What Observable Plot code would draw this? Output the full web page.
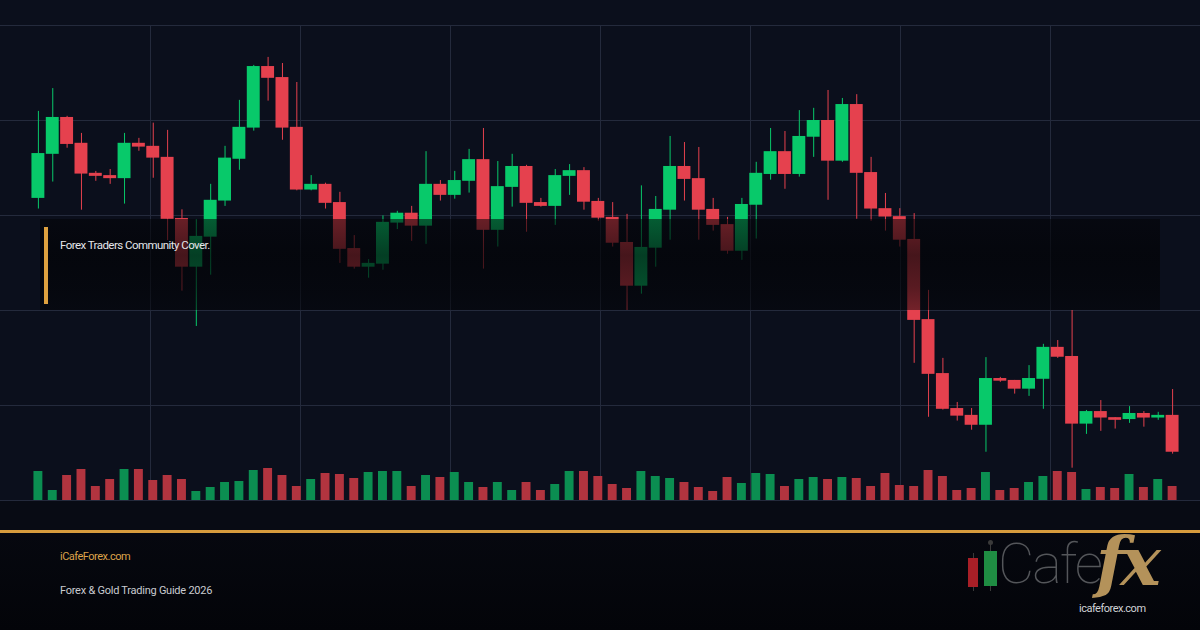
<!DOCTYPE html>
<html><head><meta charset="utf-8">
<script src="https://cdn.jsdelivr.net/npm/d3@7"></script>
<script src="https://cdn.jsdelivr.net/npm/@observablehq/plot@0.6"></script>
<style>
html,body{margin:0;padding:0;background:#04060a;}
#wrap{position:relative;width:1200px;height:630px;overflow:hidden;font-family:Roboto,"Noto Sans",sans-serif;
 background:linear-gradient(to bottom,#0b0f1c 0px,#0b0f1c 500px,#080b14 501px,#080b14 530px,#06080f 533px,#030409 630px);}
.layer{position:absolute;left:0;top:0;}
.layer svg{display:block;background:transparent;}
#band{position:absolute;left:40px;top:219px;width:1120px;height:91px;
 background:linear-gradient(to bottom,rgba(2,3,6,0.55) 0%,rgba(2,3,6,0.7) 40%,rgba(2,3,6,0.62) 75%,rgba(2,3,6,0.5) 100%);}
#bar{position:absolute;left:4px;top:8px;width:4px;height:77px;background:#dea13f;}
#bandtext{position:absolute;left:20px;top:21px;font-size:11.5px;line-height:11.5px;letter-spacing:-0.55px;color:#e4e6ea;white-space:nowrap;}
#goldline{position:absolute;left:0;top:530px;width:1200px;height:3px;background:#d79c3d;}
.ft{position:absolute;left:60px;font-size:11px;line-height:11px;white-space:nowrap;}
#site{top:551px;color:#dca24a;letter-spacing:-0.5px;}
#guide{top:585px;color:#c9cbd0;letter-spacing:-0.25px;}
.ic{position:absolute;}
#cafe{position:absolute;left:998px;top:536px;font-size:56px;line-height:56px;font-weight:100;color:#54565a;letter-spacing:-2px;font-family:Roboto,Lato,sans-serif;}
#fx{position:absolute;left:1096px;top:527px;font-size:68px;line-height:68px;font-weight:bold;font-style:italic;font-family:"DejaVu Serif","Liberation Serif",serif;color:#b4925a;letter-spacing:-5px;}
#logourl{position:absolute;left:1079px;top:603px;font-size:11px;line-height:11px;color:#d0d2d6;letter-spacing:-0.5px;white-space:nowrap;}
</style></head>
<body>
<div id="wrap">
  <div class="layer" id="gridLayer"></div>
  <div class="layer" id="candleLayer"></div>
  <div class="layer" id="volLayer"></div>
  <div id="band"><div id="bar"></div><div id="bandtext">Forex Traders Community Cover.</div></div>
  <div id="goldline"></div>
  <div class="ft" id="site">iCafeForex.com</div>
  <div class="ft" id="guide">Forex &amp; Gold Trading Guide 2026</div>
  <div class="ic" style="left:973px;top:553px;width:1px;height:38px;background:#3a3a3a"></div>
  <div class="ic" style="left:968px;top:558px;width:10px;height:29px;background:#a81f27"></div>
  <div class="ic" style="left:990px;top:542px;width:1px;height:49px;background:#3a3a3a"></div>
  <div class="ic" style="left:988px;top:540px;width:5px;height:5px;border-radius:3px;background:#3a3a3a"></div>
  <div class="ic" style="left:984px;top:551px;width:13px;height:35px;background:#1f8d43"></div>
  <div id="cafe">Cafe</div>
  <div id="fx">fx</div>
  <div id="logourl">icafeforex.com</div>
</div>
<script>
// ---- data ----
const open = [2404.5, 2416.1, 2425.8, 2419.0, 2411.1, 2410.5, 2409.7, 2419.0, 2418.2, 2415.3,
 2399.2, 2386.4, 2394.3, 2403.8, 2414.8, 2423.0, 2439.2, 2436.3, 2423.2, 2406.7,
 2408.2, 2403.4, 2391.3, 2386.4, 2387.2, 2398.0, 2400.6, 2397.2, 2408.2, 2405.3,
 2409.0, 2414.7, 2396.1, 2407.4, 2412.9, 2403.4, 2402.4, 2410.3, 2411.8, 2403.7,
 2399.5, 2392.9, 2381.4, 2391.4, 2401.4, 2412.9, 2409.7, 2401.6, 2397.6, 2390.6,
 2402.7, 2410.8, 2416.8, 2410.8, 2420.6, 2425.0, 2414.3, 2429.2, 2411.3, 2401.8,
 2399.7, 2393.7, 2372.6, 2358.4, 2349.2, 2347.4, 2344.8, 2357.1, 2356.6, 2354.3,
 2356.9, 2365.3, 2362.9, 2345.1, 2348.4, 2346.8, 2346.3, 2347.9, 2346.7, 2347.4];
const close = [2416.3, 2425.8, 2418.7, 2410.9, 2410.3, 2409.7, 2419.0, 2418.0, 2415.1, 2399.0,
 2386.4, 2394.5, 2404.0, 2415.1, 2423.2, 2439.2, 2436.1, 2423.0, 2406.7, 2408.2,
 2403.2, 2391.1, 2386.4, 2387.4, 2398.2, 2400.6, 2397.2, 2408.2, 2405.3, 2409.2,
 2414.7, 2396.1, 2407.6, 2412.9, 2403.2, 2402.4, 2410.5, 2411.8, 2403.5, 2399.3,
 2392.7, 2381.4, 2391.6, 2401.6, 2412.9, 2409.5, 2401.4, 2397.4, 2390.6, 2402.9,
 2411.1, 2416.8, 2410.8, 2420.8, 2425.0, 2414.3, 2429.2, 2411.1, 2401.7, 2399.6,
 2393.5, 2372.4, 2358.2, 2349.0, 2347.2, 2344.8, 2357.1, 2356.4, 2354.3, 2357.1,
 2365.3, 2362.7, 2345.1, 2348.4, 2346.7, 2346.1, 2347.9, 2346.7, 2347.4, 2337.7];
const high = [2427.4, 2433.4, 2426.1, 2421.6, 2411.6, 2412.1, 2421.6, 2420.3, 2424.3, 2422.4,
 2401.5, 2398.9, 2408.2, 2418.2, 2430.3, 2439.5, 2441.6, 2440.0, 2435.0, 2410.5,
 2408.5, 2406.1, 2394.7, 2388.4, 2399.9, 2401.1, 2402.4, 2416.8, 2409.2, 2411.6,
 2417.4, 2422.9, 2414.2, 2416.1, 2413.2, 2404.5, 2412.1, 2413.4, 2412.6, 2404.5,
 2403.4, 2400.3, 2407.8, 2405.0, 2420.8, 2419.2, 2417.9, 2404.5, 2399.5, 2404.5,
 2414.0, 2422.9, 2422.1, 2427.6, 2428.2, 2432.9, 2430.8, 2431.8, 2415.3, 2405.8,
 2401.8, 2400.5, 2380.3, 2362.4, 2350.8, 2349.2, 2362.6, 2357.4, 2356.6, 2360.5,
 2366.1, 2367.1, 2375.0, 2348.7, 2351.3, 2346.8, 2349.7, 2348.4, 2348.2, 2354.2];
const low = [2401.7, 2408.8, 2417.7, 2401.4, 2409.0, 2408.2, 2403.0, 2416.9, 2409.8, 2393.4,
 2380.1, 2370.8, 2384.3, 2402.4, 2411.9, 2422.2, 2430.1, 2419.8, 2406.5, 2406.5,
 2401.7, 2387.4, 2385.9, 2383.5, 2385.6, 2396.3, 2393.2, 2392.4, 2403.8, 2404.3,
 2405.9, 2385.9, 2391.7, 2402.2, 2395.6, 2402.2, 2397.4, 2405.3, 2401.4, 2398.5,
 2391.7, 2375.0, 2379.3, 2386.4, 2393.5, 2403.8, 2393.5, 2395.9, 2389.8, 2388.2,
 2393.8, 2409.3, 2406.9, 2410.1, 2415.3, 2404.0, 2414.0, 2399.0, 2398.5, 2395.9,
 2391.7, 2361.1, 2346.9, 2348.8, 2345.9, 2343.5, 2337.7, 2356.1, 2353.0, 2352.4,
 2349.0, 2362.4, 2333.5, 2342.4, 2343.2, 2343.8, 2345.3, 2344.3, 2346.1, 2337.2];
const volume = [580, 200, 500, 620, 280, 420, 620, 620, 400, 500,
 420, 180, 260, 360, 380, 600, 640, 500, 280, 420,
 540, 520, 440, 560, 580, 580, 280, 500, 460, 560,
 360, 260, 360, 200, 360, 200, 320, 580, 580, 480,
 320, 240, 580, 480, 440, 360, 260, 180, 460, 340,
 540, 520, 280, 420, 460, 420, 460, 440, 280, 540,
 300, 280, 600, 480, 200, 240, 560, 200, 240, 360,
 480, 580, 560, 220, 260, 240, 520, 260, 420, 280];
const priceTicks = [2325, 2350, 2375, 2400, 2425, 2450];
const priceDomain = [2325, 2450];
const sessionTicks = [1, 2, 3, 4, 5, 6, 7];
const sessionDomain = [0, 8];

// ---- table ----
const candles = open.map((o, i) => ({i, open: o, close: close[i], high: high[i], low: low[i], volume: volume[i]}));
const up = candles.filter(d => d.close >= d.open);
const down = candles.filter(d => d.close < d.open);

const GREEN = "#08c96a", RED = "#e5414e", GRID = "#242a3c";
const VGREEN = "#0b8e51", VRED = "#b2343f";
const W = 1200, H = 530;
const common = {width: W, height: H, marginTop: 25, marginBottom: 30, style: {background: "transparent", overflow: "visible"}};
const xBand = {type: "band", domain: d3.range(open.length), padding: 0.1, round: false, axis: null};

// grid (full width)
const gridPlot = Plot.plot({...common, marginLeft: 0, marginRight: 0,
  x: {domain: sessionDomain, axis: null}, y: {domain: priceDomain, axis: null},
  marks: [
    Plot.gridX(sessionTicks, {stroke: GRID, strokeOpacity: 1}),
    Plot.gridY(priceTicks, {stroke: GRID, strokeOpacity: 1})
  ]
});
document.getElementById("gridLayer").append(gridPlot);

// candles
const candlePlot = Plot.plot({...common, marginLeft: 30, marginRight: 20,
  x: xBand,
  y: {domain: priceDomain, axis: null},
  marks: [
    Plot.ruleX(up, {x: "i", y1: "low", y2: "high", stroke: GREEN, strokeWidth: 1}),
    Plot.ruleX(down, {x: "i", y1: "low", y2: "high", stroke: RED, strokeWidth: 1}),
    Plot.barY(up, {x: "i", y1: "open", y2: "close", fill: GREEN}),
    Plot.barY(down, {x: "i", y1: "open", y2: "close", fill: RED})
  ]
});
document.getElementById("candleLayer").append(candlePlot);

// volume
const volPlot = Plot.plot({...common, marginLeft: 30, marginRight: 20,
  x: xBand,
  y: {domain: [0, 9500], axis: null},
  marks: [
    Plot.barY(up, {x: "i", y: "volume", fill: VGREEN, insetLeft: 2, insetRight: 2}),
    Plot.barY(down, {x: "i", y: "volume", fill: VRED, insetLeft: 2, insetRight: 2})
  ]
});
document.getElementById("volLayer").append(volPlot);
</script>
</body></html>
